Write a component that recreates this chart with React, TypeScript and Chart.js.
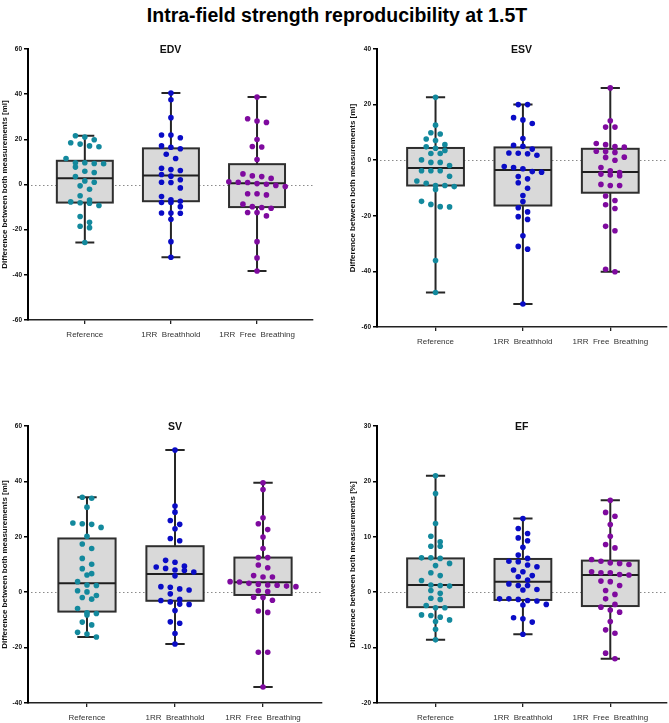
import { useEffect, useRef } from "react";
import { Chart, registerables } from "chart.js";

Chart.register(...registerables);

const FONT = '"Liberation Sans", Arial, Helvetica, sans-serif';

const groupLabels = ["Reference", "1RR  Breathhold", "1RR  Free  Breathing"];
const groupColors = ["#13899d", "#0a0cc6", "#7f0a9f"];

// EDV: difference between both measurements [ml]
const edvReference = [21.6, 21.0, 19.8, 18.5, 17.9, 16.7, 17.1, 11.5, 9.6, 9.3, 9.6, 9.2, 7.7, 5.9, 5.3, 3.5, 1.0, 1.6, -0.6, -2.1, -5.0, -6.9, -7.7, -8.3, -8.1, -9.3, -14.2, -16.7, -18.5, -19.1, -25.7];
const edvBreathhold = [40.5, 37.5, 29.6, 21.9, 20.7, 21.9, 15.8, 17.1, 16.5, 11.5, 13.4, 6.6, 6.2, 7.2, 4.4, 3.7, 2.1, 1.0, 0.9, -1.5, -5.3, -6.8, -8.0, -8.0, -7.4, -9.8, -12.6, -12.6, -12.7, -15.4, -25.3, -32.2];
const edvFreeBreathing = [38.7, 29.1, 27.5, 28.1, 19.9, 16.6, 16.8, 11.1, 4.7, 3.8, 3.5, 2.7, 1.2, 0.9, 0.4, 1.0, 0.1, -0.4, -0.9, -4.1, -4.6, -4.1, -8.7, -10.2, -10.5, -9.8, -12.4, -12.4, -13.9, -25.3, -32.5, -38.3];
const edvQ1 = [-8.0, -7.4, -10.0];
const edvMedian = [2.8, 4.0, 0.6];
const edvQ3 = [10.5, 16.0, 9.0];

// ESV: difference between both measurements [ml]
const esvReference = [22.6, 12.6, 9.9, 9.4, 7.6, 7.1, 5.6, 4.8, 4.3, 3.5, 2.4, 2.4, 0.1, -1.9, -0.8, -0.8, -3.8, -3.8, -3.8, -7.5, -5.8, -8.3, -9.5, -9.1, -9.1, -10.5, -15.9, -14.8, -16.8, -16.7, -36.1, -47.6];
const esvBreathhold = [20.0, 20.0, 14.5, 15.3, 13.2, 7.8, 5.4, 5.0, 4.0, 1.8, 2.6, 2.5, 2.3, -2.6, -2.3, -3.1, -4.1, -4.3, -5.9, -6.7, -8.1, -10.1, -12.7, -14.9, -17.1, -18.6, -20.3, -21.3, -27.2, -31.0, -32.0, -51.7];
const esvFreeBreathing = [26.0, 14.2, 11.9, 11.9, 5.6, 6.0, 4.9, 4.7, 3.2, 3.1, 2.8, 1.1, 1.0, 0.0, -2.6, -5.3, -3.8, -5.6, -4.4, -5.0, -9.1, -9.1, -8.7, -12.9, -16.0, -14.5, -17.4, -23.8, -25.4, -39.2, -40.1];
const esvQ1 = [-9.1, -16.3, -11.7];
const esvMedian = [-2.8, -3.5, -4.2];
const esvQ3 = [4.4, 4.6, 4.1];

// SV: difference between both measurements [ml]
const svReference = [34.3, 33.9, 30.7, 24.5, 24.7, 25.0, 23.4, 20.2, 17.4, 15.8, 12.2, 10.1, 8.5, 6.7, 6.2, 3.8, 2.4, 2.6, 0.5, 0.1, -1.9, -1.2, -2.5, -5.9, -7.7, -7.4, -8.2, -10.8, -11.8, -14.5, -15.1, -16.2];
const svBreathhold = [51.3, 31.1, 28.9, 25.9, 24.5, 22.9, 18.6, 19.4, 11.5, 10.8, 8.0, 8.6, 9.1, 9.4, 7.8, 7.3, 5.9, 2.0, 1.2, 1.8, 0.8, -0.6, -2.6, -3.0, -3.5, -4.3, -4.4, -6.6, -11.2, -10.7, -14.9, -18.7];
const svFreeBreathing = [39.5, 37.1, 26.9, 24.7, 22.6, 19.9, 15.8, 12.5, 12.5, 9.8, 8.8, 5.5, 6.0, 5.5, 2.6, 2.9, 3.2, 3.8, 3.7, 2.2, 2.5, 2.0, 0.2, 0.5, -1.9, -1.8, -2.9, -6.8, -7.3, -21.7, -21.7, -34.2];
const svQ1 = [-7.0, -3.1, -1.0];
const svMedian = [3.2, 6.6, 3.6];
const svQ3 = [19.4, 16.6, 12.5];

// EF: difference between both measurements [%]
const efReference = [21.0, 17.8, 12.4, 10.1, 9.1, 8.3, 8.3, 6.2, 6.1, 6.2, 4.8, 5.2, 3.5, 3.0, 2.1, 1.3, 1.1, 1.2, 0.3, -0.2, -1.1, -1.3, -2.4, -2.8, -2.8, -4.1, -4.2, -4.5, -5.0, -5.3, -6.7, -8.6];
const efBreathhold = [13.3, 11.5, 10.6, 9.3, 9.8, 8.1, 6.7, 6.1, 5.6, 5.5, 4.6, 4.9, 4.0, 3.7, 2.8, 3.0, 2.2, 1.5, 1.2, 1.2, 0.4, 0.5, -1.6, -1.2, -1.2, -1.3, -1.5, -2.3, -2.2, -4.6, -4.8, -5.4, -7.6];
const efFreeBreathing = [16.6, 14.4, 13.7, 12.2, 10.1, 8.0, 8.6, 5.9, 5.6, 5.2, 5.3, 5.0, 3.7, 3.5, 3.5, 3.1, 3.2, 2.0, 1.9, 1.2, 0.3, -0.4, -1.2, -2.2, -2.7, -3.2, -3.6, -5.3, -6.8, -7.4, -11.0, -12.0];
const efQ1 = [-2.7, -1.4, -2.5];
const efMedian = [1.3, 1.9, 3.1];
const efQ3 = [6.1, 6.0, 5.7];

const mlTitle = "Difference between both measurements [ml]";
const pctTitle = "Difference between both measurements [%]";

type PanelSpec = {
  title: string;
  yTitle: string;
  yMin: number;
  yMax: number;
  yStep: number;
  series: number[][];
  q1: number[];
  median: number[];
  q3: number[];
  frame: { left: number; top: number; width: number; height: number };
  pad: { left: number; top: number; right: number };
  yWidth: number;
  xHeight: number;
  xMin: number;
  xMax: number;
};

const panels: PanelSpec[] = [
  {
    title: "EDV", yTitle: mlTitle, yMin: -60, yMax: 60, yStep: 20,
    series: [edvReference, edvBreathhold, edvFreeBreathing],
    q1: edvQ1, median: edvMedian, q3: edvQ3,
    frame: { left: 0, top: 40, width: 335, height: 310 },
    pad: { left: 0, top: 9, right: 22 }, yWidth: 28, xHeight: 30,
    xMin: -0.66, xMax: 2.65,
  },
  {
    title: "ESV", yTitle: mlTitle, yMin: -60, yMax: 40, yStep: 20,
    series: [esvReference, esvBreathhold, esvFreeBreathing],
    q1: esvQ1, median: esvMedian, q3: esvQ3,
    frame: { left: 335, top: 40, width: 334, height: 317 },
    pad: { left: 13, top: 9, right: 1 }, yWidth: 29, xHeight: 30,
    xMin: -0.67, xMax: 2.64,
  },
  {
    title: "SV", yTitle: mlTitle, yMin: -40, yMax: 60, yStep: 20,
    series: [svReference, svBreathhold, svFreeBreathing],
    q1: svQ1, median: svMedian, q3: svQ3,
    frame: { left: 0, top: 365, width: 335, height: 358 },
    pad: { left: 0, top: 61, right: 13 }, yWidth: 28, xHeight: 20,
    xMin: -0.67, xMax: 2.67,
  },
  {
    title: "EF", yTitle: pctTitle, yMin: -20, yMax: 30, yStep: 10,
    series: [efReference, efBreathhold, efFreeBreathing],
    q1: efQ1, median: efMedian, q3: efQ3,
    frame: { left: 335, top: 365, width: 334, height: 358 },
    pad: { left: 13, top: 61, right: 1 }, yWidth: 29, xHeight: 20,
    xMin: -0.67, xMax: 2.64,
  },
];

const BOX_HALF = 0.325;
const CAP_HALF = 0.11;
const DOT_ROW_PX = 6;
const DOT_STEP_PX = 9.4;

// Spread points sideways: values close in height share a row and are
// centred around the group position.
function swarm(values: number[], rowSpan: number, step: number): number[] {
  const order = values.map((v, i) => i).sort((a, b) => values[b] - values[a]);
  const offsets = new Array(values.length).fill(0);
  let row: number[] = [];
  const flush = () => {
    const n = row.length;
    row.forEach((idx, k) => {
      offsets[idx] = (k - (n - 1) / 2) * step;
    });
    row = [];
  };
  for (const idx of order) {
    if (row.length && values[row[0]] - values[idx] >= rowSpan) flush();
    row.push(idx);
  }
  flush();
  return offsets;
}

function boxPlugin(spec: PanelSpec) {
  return {
    id: "boxes",
    beforeDatasetsDraw(chart: any) {
      const { ctx, chartArea } = chart;
      const x = chart.scales.x;
      const y = chart.scales.y;
      ctx.save();
      const y0 = Math.round(y.getPixelForValue(0)) + 0.5;
      ctx.beginPath();
      ctx.setLineDash([1.5, 2.5]);
      ctx.strokeStyle = "#8a8a8a";
      ctx.lineWidth = 1;
      ctx.moveTo(chartArea.left + 3, y0);
      ctx.lineTo(chartArea.right, y0);
      ctx.stroke();
      ctx.setLineDash([]);

      spec.series.forEach((vals, i) => {
        const cx = x.getPixelForValue(i);
        const hw = x.getPixelForValue(i + BOX_HALF) - cx;
        const cw = x.getPixelForValue(i + CAP_HALF) - cx;
        const top = y.getPixelForValue(Math.max(...vals));
        const bottom = y.getPixelForValue(Math.min(...vals));
        const q3 = y.getPixelForValue(spec.q3[i]);
        const q1 = y.getPixelForValue(spec.q1[i]);
        const med = y.getPixelForValue(spec.median[i]);

        ctx.strokeStyle = "#262626";
        ctx.lineWidth = 2;
        ctx.beginPath();
        ctx.moveTo(cx, top);
        ctx.lineTo(cx, bottom);
        ctx.moveTo(cx - cw, top);
        ctx.lineTo(cx + cw, top);
        ctx.moveTo(cx - cw, bottom);
        ctx.lineTo(cx + cw, bottom);
        ctx.stroke();

        ctx.fillStyle = "#d9d9d9";
        ctx.fillRect(cx - hw, q3, hw * 2, q1 - q3);
        ctx.strokeStyle = "#2e2e2e";
        ctx.lineWidth = 2;
        ctx.strokeRect(cx - hw, q3, hw * 2, q1 - q3);

        ctx.strokeStyle = "#1f1f1f";
        ctx.lineWidth = 2;
        ctx.beginPath();
        ctx.moveTo(cx - hw, med);
        ctx.lineTo(cx + hw, med);
        ctx.stroke();
      });
      ctx.restore();
    },
    afterDraw(chart: any) {
      const { ctx, chartArea } = chart;
      ctx.save();
      ctx.font = `bold 10.5px ${FONT}`;
      ctx.fillStyle = "#111";
      ctx.textAlign = "center";
      ctx.textBaseline = "middle";
      ctx.fillText(spec.title, (chartArea.left + chartArea.right) / 2, chartArea.top + 1);
      ctx.restore();
    },
  };
}

function Panel({ spec }: { spec: PanelSpec }) {
  const ref = useRef<HTMLCanvasElement | null>(null);

  useEffect(() => {
    if (!ref.current) return;
    const { frame, pad } = spec;
    const plotH = frame.height - pad.top - spec.xHeight;
    const plotW = frame.width - pad.left - pad.right - spec.yWidth;
    const rowSpan = DOT_ROW_PX * (spec.yMax - spec.yMin) / plotH;
    const step = DOT_STEP_PX * (spec.xMax - spec.xMin) / plotW;

    const datasets = spec.series.map((vals, i) => {
      const offs = swarm(vals, rowSpan, step);
      return {
        label: groupLabels[i],
        data: vals.map((v, k) => ({ x: i + offs[k], y: v })),
        backgroundColor: groupColors[i],
        borderWidth: 0,
        pointRadius: 2.8,
        pointHoverRadius: 2.8,
      };
    });

    const chart = new Chart(ref.current, {
      type: "scatter",
      data: { datasets },
      options: {
        animation: false,
        responsive: false,
        events: [],
        layout: { padding: { left: pad.left, top: pad.top, right: pad.right, bottom: 0 } },
        plugins: {
          legend: { display: false },
          tooltip: { enabled: false },
          title: { display: false },
        },
        scales: {
          x: {
            type: "linear",
            min: spec.xMin,
            max: spec.xMax,
            afterBuildTicks: (axis: any) => {
              axis.ticks = groupLabels.map((_, i) => ({ value: i }));
            },
            afterFit: (axis: any) => {
              axis.height = spec.xHeight;
            },
            ticks: {
              autoSkip: false,
              maxRotation: 0,
              padding: 6,
              color: "#333",
              font: { family: FONT, size: 8 },
              callback: (v: any) => groupLabels[v] ?? "",
            },
            grid: { drawOnChartArea: false, drawTicks: true, tickLength: 4, color: "#222", lineWidth: 1.3 },
            border: { display: true, color: "#222", width: 1.6 },
          },
          y: {
            min: spec.yMin,
            max: spec.yMax,
            afterFit: (axis: any) => {
              axis.width = spec.yWidth;
            },
            ticks: {
              stepSize: spec.yStep,
              padding: 2,
              color: "#111",
              font: { family: FONT, size: 6.5, weight: "bold" },
            },
            title: {
              display: true,
              text: spec.yTitle,
              color: "#111",
              padding: 0,
              font: { family: FONT, size: 8, weight: "bold" },
            },
            grid: { drawOnChartArea: false, drawTicks: true, tickLength: 4, color: "#000", lineWidth: 1.5 },
            border: { display: true, color: "#000", width: 2 },
          },
        },
      },
      plugins: [boxPlugin(spec)],
    } as any);

    return () => chart.destroy();
  }, [spec]);

  const { frame } = spec;
  return (
    <canvas
      ref={ref}
      width={frame.width}
      height={frame.height}
      style={{ position: "absolute", left: frame.left, top: frame.top, width: frame.width, height: frame.height }}
    />
  );
}

export default function App() {
  return (
    <div style={{ position: "absolute", left: 0, top: 0, width: 669, height: 723, background: "#fff", overflow: "hidden" }}>
      <div
        style={{
          position: "absolute",
          left: 0,
          top: 1,
          width: 674,
          textAlign: "center",
          fontFamily: FONT,
          fontWeight: "bold",
          fontSize: 19.5,
          lineHeight: "28px",
          color: "#000",
        }}
      >
        Intra-field strength reproducibility at 1.5T
      </div>
      {panels.map((p) => (
        <Panel key={p.title} spec={p} />
      ))}
    </div>
  );
}
